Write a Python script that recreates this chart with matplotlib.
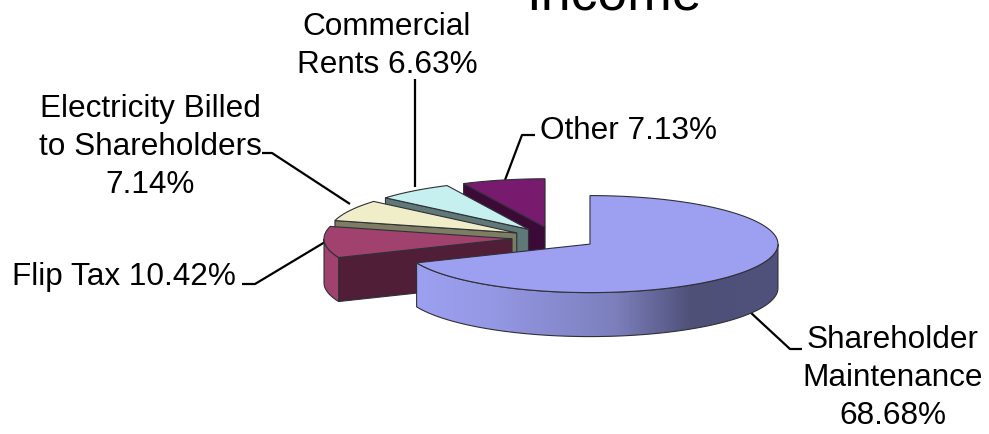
import numpy as np
import matplotlib
matplotlib.use("Agg")
import matplotlib.pyplot as plt
from matplotlib.patches import Polygon
from matplotlib.colors import LinearSegmentedColormap

plt.rcParams["font.family"] = ["Liberation Sans", "DejaVu Sans"]

# Income shares, clockwise from twelve o'clock
categories = ["Shareholder\nMaintenance", "Flip Tax", "Electricity Billed\nto Shareholders",
              "Commercial\nRents", "Other"]
shares = [68.68, 10.42, 7.14, 6.63, 7.13]
label_formats = ["{n}\n{v:.2f}%", "{n} {v:.2f}%", "{n}\n{v:.2f}%", "{n} {v:.2f}%", "{n} {v:.2f}%"]

top_colors = ["#9da0f0", "#a0416e", "#f0eec8", "#c6f0f0", "#781a6e"]
face_colors = [None, "#501e37", "#7d7d64", "#5f7878", "#3c0a37"]
wall_colors = [None, "#a0416e", None, None, None]
edge = "#303038"

CX, CY = 554.5, 239.0   # pie centre before explosion
RX, RY = 188.0, 48.5    # ellipse radii of the tilted disc
DEPTH = 44.0
EXPLODE = 42.6

W, H = 989, 435
fig = plt.figure(figsize=(W / 100, H / 100), dpi=100)
ax = fig.add_axes([0, 0, 1, 1])
ax.set_xlim(0, W)
ax.set_ylim(H, 0)
ax.axis("off")


def rim(ax_x, ax_y, a0, a1, n=80):
    t = np.radians(np.linspace(a0, a1, n))
    return np.column_stack([ax_x + RX * np.sin(t), ax_y - RY * np.cos(t)])


ends = np.cumsum(shares) / sum(shares) * 360
starts = np.r_[0, ends[:-1]]
apexes = []
for a0, a1 in zip(starts, ends):
    mid = np.radians((a0 + a1) / 2)
    apexes.append((CX + EXPLODE * np.sin(mid), CY - EXPLODE * RY / RX * np.cos(mid)))

# Painter's order: the rear slices first, the large front slice last
for i in [4, 3, 2, 1, 0]:
    a0, a1 = starts[i], ends[i]
    x0, y0 = apexes[i]
    z = 2 + (4 - i) * 3
    if face_colors[i]:
        p = rim(x0, y0, a0, a0, 2)[0]
        quad = [(x0, y0), tuple(p), (p[0], p[1] + DEPTH), (x0, y0 + DEPTH)]
        ax.add_patch(Polygon(quad, closed=True, fc=face_colors[i], ec=edge, lw=0.8, zorder=z))
    lo, hi = max(a0, 90), min(a1, 270)
    if lo < hi:
        arc = rim(x0, y0, lo, hi)
        wall = np.vstack([arc, (arc + [0, DEPTH])[::-1]])
        if wall_colors[i]:
            ax.add_patch(Polygon(wall, closed=True, fc=wall_colors[i], ec=edge, lw=0.8, zorder=z + 1))
        else:
            # Shaded outer wall of the large slice, lit from the left
            shade = LinearSegmentedColormap.from_list(
                "wall", [(0, "#9da0f0"), (0.2, "#9598e4"), (0.55, "#7c7fbc"), (0.76, "#4e5078"), (1, "#50527c")])
            grad = np.linspace(0, 1, 400).reshape(1, -1)
            im = ax.imshow(grad, cmap=shade, aspect="auto", zorder=z + 1,
                           extent=[wall[:, 0].min(), wall[:, 0].max(), wall[:, 1].max(), wall[:, 1].min()])
            outline = Polygon(wall, closed=True, fc="none", ec=edge, lw=0.8, zorder=z + 1.5)
            ax.add_patch(outline)
            im.set_clip_path(outline)
    arc = rim(x0, y0, a0, a1, 160)
    top = np.vstack([[x0, y0], arc])
    ax.add_patch(Polygon(top, closed=True, fc=top_colors[i], ec=edge, lw=0.8, zorder=z + 2))

ax.set_xlim(0, W)
ax.set_ylim(H, 0)

# Leader lines from the labels to the slices
leaders = [
    ([750, 790, 802], [313, 350, 350]),
    ([325, 255, 242], [243, 285, 285]),
    ([350, 272, 262], [205, 154, 154]),
    ([415, 415], [188, 80]),
    ([505, 522, 535], [181, 136, 136]),
]
for xs, ys in leaders:
    ax.plot(xs, ys, color="black", lw=1.6, zorder=1, solid_capstyle="butt")

label_pos = [(893, 378), (124, 277), (150, 147), (387, 46), (628, 131)]
for name, v, fmt, (x, y) in zip(categories, shares, label_formats, label_pos):
    ax.text(x, y, fmt.format(n=name, v=v), ha="center", va="center", multialignment="center",
            fontsize=22.7, linespacing=1.34, color="black", zorder=30)

# Chart heading, cropped by the top edge of the figure
ax.text(614, 9.5, "Income", ha="center", va="baseline", fontsize=38.5, color="black", zorder=30)

fig.savefig("out.png", dpi=100)
